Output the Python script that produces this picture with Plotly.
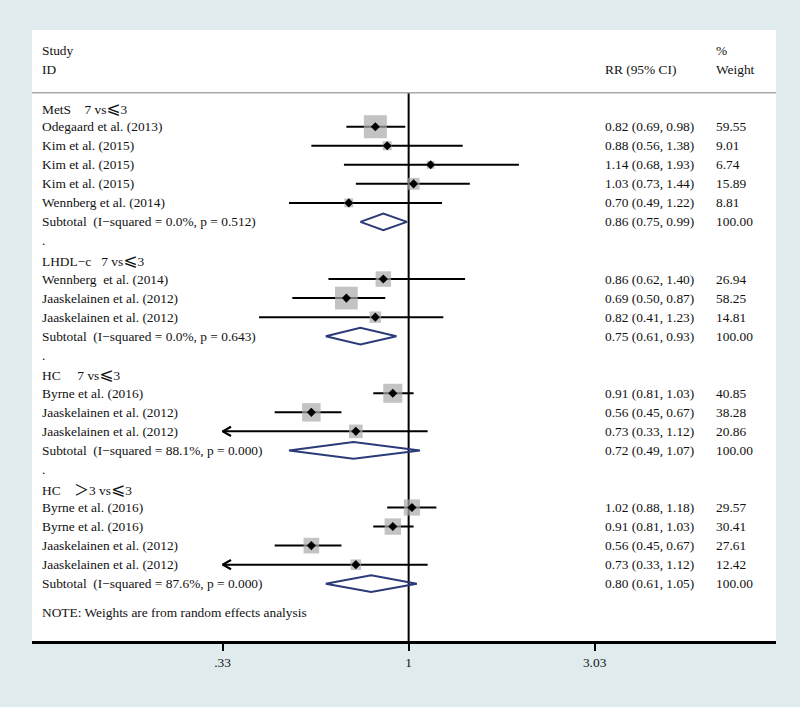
import math
import plotly.graph_objects as go

# ---------------- data ----------------
LE = "<span style=\"font-family:'DejaVu Sans';font-size:17px\">\u2a7d</span>"
GT = "<span style=\"font-family:'Noto Sans CJK SC';font-size:15px\">\uff1e</span>"
NB = "\u00a0"
row_labels = [
    "MetS" + NB * 4 + "7 vs" + LE + "3",
    "Odegaard et al. (2013)",
    "Kim et al. (2015)",
    "Kim et al. (2015)",
    "Kim et al. (2015)",
    "Wennberg et al. (2014)",
    "Subtotal" + NB * 2 + "(I\u2212squared = 0.0%, p = 0.512)",
    ".",
    "LHDL\u2212c" + NB * 3 + "7 vs" + LE + "3",
    "Wennberg" + NB * 2 + "et al. (2014)",
    "Jaaskelainen et al. (2012)",
    "Jaaskelainen et al. (2012)",
    "Subtotal" + NB * 2 + "(I\u2212squared = 0.0%, p = 0.643)",
    ".",
    "HC" + NB * 5 + "7 vs" + LE + "3",
    "Byrne et al. (2016)",
    "Jaaskelainen et al. (2012)",
    "Jaaskelainen et al. (2012)",
    "Subtotal" + NB * 2 + "(I\u2212squared = 88.1%, p = 0.000)",
    ".",
    "HC" + NB * 4 + GT + "3 vs" + LE + "3",
    "Byrne et al. (2016)",
    "Byrne et al. (2016)",
    "Jaaskelainen et al. (2012)",
    "Jaaskelainen et al. (2012)",
    "Subtotal" + NB * 2 + "(I\u2212squared = 87.6%, p = 0.000)",
]
row_kind = ["group", "study", "study", "study", "study", "study", "subtotal", "spacer",
            "group", "study", "study", "study", "subtotal", "spacer",
            "group", "study", "study", "study", "subtotal", "spacer",
            "group", "study", "study", "study", "study", "subtotal"]
rr = [None, 0.82, 0.88, 1.14, 1.03, 0.70, 0.86, None,
      None, 0.86, 0.69, 0.82, 0.75, None,
      None, 0.91, 0.56, 0.73, 0.72, None,
      None, 1.02, 0.91, 0.56, 0.73, 0.80]
ci_low = [None, 0.69, 0.56, 0.68, 0.73, 0.49, 0.75, None,
          None, 0.62, 0.50, 0.41, 0.61, None,
          None, 0.81, 0.45, 0.33, 0.49, None,
          None, 0.88, 0.81, 0.45, 0.33, 0.61]
ci_high = [None, 0.98, 1.38, 1.93, 1.44, 1.22, 0.99, None,
           None, 1.40, 0.87, 1.23, 0.93, None,
           None, 1.03, 0.67, 1.12, 1.07, None,
           None, 1.18, 1.03, 0.67, 1.12, 1.05]
weights = [None, 59.55, 9.01, 6.74, 15.89, 8.81, 100.00, None,
           None, 26.94, 58.25, 14.81, 100.00, None,
           None, 40.85, 38.28, 20.86, 100.00, None,
           None, 29.57, 30.41, 27.61, 12.42, 100.00]
note_text = "NOTE: Weights are from random effects analysis"
tick_vals = [0.33, 1, 3.03]
tick_text = [".33", "1", "3.03"]
arrow_limit = 0.33

# ---------------- styling ----------------
FONT = "Liberation Serif"
FS = 13.4
TXT = "#111111"
BG = "#e0ebee"
W, H = 800, 707
ML, MR, MT, MB = 32, 24, 30, 66
PW = W - ML - MR
YTOP, YBOT = -4.08, 28.01
XRANGE = [-0.975, 0.951]
BOX_K = 2.98
HALF_D = 0.44
NOTE_ROW = 26.5
HEADER_LINE = -0.79


def px2paper(px):
    return (px - ML) / PW


fig = go.Figure()

# null line
fig.add_trace(go.Scatter(x=[1, 1], y=[HEADER_LINE, YBOT], mode="lines",
                         line=dict(color="black", width=2), hoverinfo="skip"))

# CI lines
lx, ly = [], []
ax, ay = [], []
for i, k in enumerate(row_kind):
    if k == "study":
        lx += [ci_low[i], ci_high[i], None]
        ly += [i, i, None]
        if ci_low[i] <= arrow_limit:
            t = ci_low[i]
            a = t * math.exp(0.05)
            ax += [a, t, a, None]
            ay += [i - 0.24, i, i + 0.24, None]
fig.add_trace(go.Scatter(x=lx, y=ly, mode="lines", line=dict(color="black", width=2),
                         hoverinfo="skip"))
fig.add_trace(go.Scatter(x=ax, y=ay, mode="lines", line=dict(color="black", width=2.2),
                         hoverinfo="skip"))

# weight boxes
sx = [rr[i] for i, k in enumerate(row_kind) if k == "study"]
sy = [i for i, k in enumerate(row_kind) if k == "study"]
ss = [BOX_K * math.sqrt(weights[i]) for i, k in enumerate(row_kind) if k == "study"]
fig.add_trace(go.Scatter(x=sx, y=sy, mode="markers",
                         marker=dict(symbol="square", size=ss, color="#a9a9a9",
                                     line=dict(width=0)), hoverinfo="skip"))
fig.add_trace(go.Scatter(x=sx, y=sy, mode="markers",
                         marker=dict(symbol="diamond", size=7, color="black",
                                     line=dict(width=0)), hoverinfo="skip"))

# subtotal diamonds
dx, dy = [], []
for i, k in enumerate(row_kind):
    if k == "subtotal":
        dx += [ci_low[i], rr[i], ci_high[i], rr[i], ci_low[i], None]
        dy += [i, i - HALF_D, i, i + HALF_D, i, None]
fig.add_trace(go.Scatter(x=dx, y=dy, mode="lines", line=dict(color="#2b3a78", width=2),
                         hoverinfo="skip"))

# text annotations
ann = []
def add_text(px, row, text):
    ann.append(dict(x=px2paper(px), xref="paper", y=row, yref="y", text=text,
                    xanchor="left", yanchor="middle", showarrow=False,
                    font=dict(family=FONT, size=FS, color=TXT)))

X_LABEL, X_RR, X_W = 40, 603, 713.5
add_text(X_LABEL, -3, "Study")
add_text(X_LABEL, -2, "ID")
add_text(X_RR, -2, "RR (95% CI)")
add_text(X_W, -3, "%")
add_text(X_W, -2, "Weight")
for i, lab in enumerate(row_labels):
    add_text(X_LABEL, i, lab)
    if rr[i] is not None:
        add_text(X_RR, i, f"{rr[i]:.2f} ({ci_low[i]:.2f}, {ci_high[i]:.2f})")
        add_text(X_W, i, f"{weights[i]:.2f}")
add_text(X_LABEL, NOTE_ROW, note_text)

fig.update_layout(
    width=W, height=H,
    margin=dict(l=ML, r=MR, t=MT, b=MB, pad=0),
    paper_bgcolor=BG, plot_bgcolor="white",
    showlegend=False,
    font=dict(family=FONT, size=FS, color=TXT),
    annotations=ann,
    shapes=[dict(type="line", xref="paper", x0=0, x1=1, yref="y",
                 y0=HEADER_LINE, y1=HEADER_LINE, line=dict(color="#a8a8a8", width=1.5))],
    xaxis=dict(type="log", range=XRANGE, showgrid=False, zeroline=False,
               showline=True, linecolor="black", linewidth=2.5,
               ticks="outside", ticklen=7, tickwidth=2, tickcolor="black",
               tickvals=tick_vals, ticktext=tick_text,
               tickfont=dict(family=FONT, size=FS, color=TXT)),
    yaxis=dict(range=[YBOT, YTOP], visible=False, showgrid=False, zeroline=False),
)

fig.write_html("out.html", config={"displayModeBar": False},
               post_script="document.body.style.margin='0';"
                           "document.body.style.background='" + BG + "';")
